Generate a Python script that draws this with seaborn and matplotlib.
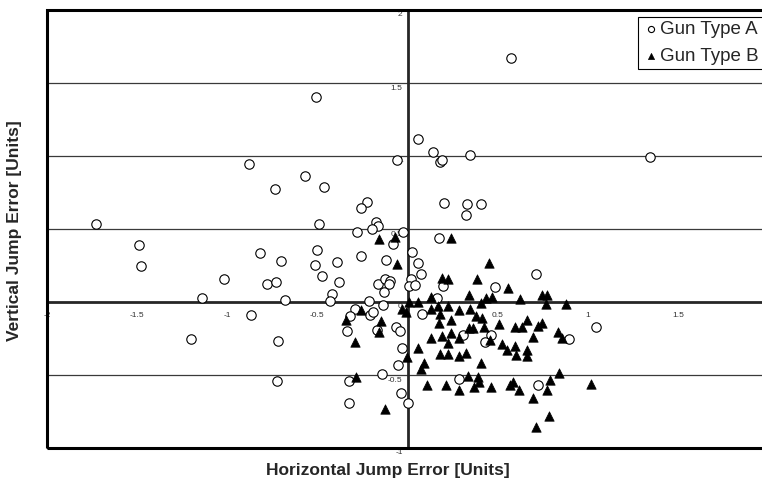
import numpy as np
import pandas as pd
import matplotlib
matplotlib.use("Agg")
import matplotlib.pyplot as plt
import matplotlib.transforms as mtransforms
from matplotlib.patches import Rectangle
import seaborn as sns

# ---- data ----
gun_a_x = [-0.507, -0.882, -0.059, -0.567, -0.737, -0.463, -0.222, -0.257, -1.730, -0.493,
           -0.174, -0.161, -0.198, -0.278, -0.026, -0.081, -1.489, 0.057, 0.576, 0.144,
           0.180, 0.190, 0.344, 1.348, 0.204, 0.331, 0.409, 0.324, 0.174, -1.480,
           -0.818, -0.704, -0.504, -0.515, -0.391, -0.257, -0.117, -1.020, -0.780, -0.731,
           -0.476, -0.380, -1.141, -0.680, -0.419, -0.428, -0.165, -0.124, -0.096, -0.104,
           -0.133, -0.211, -0.137, -0.869, -0.293, -0.317, -0.207, -0.193, -0.170, -0.337,
           -1.200, -0.717, -0.063, -0.041, -0.031, -0.050, -0.724, -0.326, -0.143, -0.037,
           -0.326, 0.004, 0.026, 0.057, 0.076, 0.020, 0.007, 0.039, 0.196, 0.715,
           0.487, 0.163, 0.081, 0.307, 0.465, 0.428, 0.896, 1.048, 0.283, 0.726]
gun_a_y = [1.405, 0.945, 0.970, 0.865, 0.774, 0.788, 0.687, 0.646, 0.536, 0.536,
           0.548, 0.523, 0.502, 0.479, 0.477, 0.395, 0.390, 1.114, 1.673, 1.027,
           0.960, 0.970, 1.007, 0.995, 0.676, 0.671, 0.669, 0.594, 0.436, 0.249,
           0.333, 0.281, 0.356, 0.253, 0.274, 0.317, 0.290, 0.158, 0.123, 0.137,
           0.178, 0.137, 0.030, 0.014, 0.053, 0.007, 0.121, 0.155, 0.142, 0.123,
           0.068, 0.007, -0.018, -0.091, -0.048, -0.094, -0.089, -0.071, -0.192, -0.201,
           -0.251, -0.269, -0.174, -0.196, -0.315, -0.432, -0.539, -0.539, -0.493, -0.621,
           -0.689, -0.689, 0.342, 0.265, 0.189, 0.155, 0.112, 0.116, 0.110, 0.189,
           0.105, 0.025, -0.082, -0.226, -0.226, -0.276, -0.251, -0.171, -0.527, -0.568]

gun_b_x = [-0.156, -0.067, 0.244, -0.057, -0.257, -0.341, -0.148, -0.159, -0.289, -0.004,
           0.057, -0.285, -0.126, 0.454, 0.193, 0.226, 0.383, 0.556, 0.746, 0.776,
           0.133, 0.343, 0.433, 0.469, 0.626, 0.011, 0.056, 0.169, 0.224, 0.409,
           0.767, 0.878, -0.033, -0.007, 0.131, 0.285, 0.344, 0.183, 0.381, 0.415,
           0.243, 0.174, 0.506, 0.424, 0.665, 0.746, 0.724, 0.594, 0.637, 0.341,
           0.363, 0.131, 0.193, 0.243, 0.285, 0.224, 0.456, 0.696, 0.835, 0.859,
           0.524, 0.594, 0.554, 0.665, 0.602, 0.665, 0.181, 0.226, 0.285, 0.326,
           0.094, 0.406, 0.076, 0.335, 0.391, 0.394, 0.367, 0.107, 0.215, 0.285,
           0.465, 0.567, 0.585, 0.619, 0.789, 0.839, 0.776, 0.694, 1.017, 0.785,
           0.715]
gun_b_y = [0.429, 0.447, 0.440, 0.258, -0.055, -0.123, -0.130, -0.203, -0.276, -0.379,
           -0.317, -0.511, -0.733, 0.267, 0.162, 0.158, 0.158, 0.096, 0.048, 0.048,
           0.037, 0.046, 0.030, 0.037, 0.018, -0.002, -0.002, -0.027, -0.027, -0.005,
           -0.014, -0.014, -0.046, -0.066, -0.046, -0.055, -0.046, -0.084, -0.096, -0.112,
           -0.123, -0.146, -0.153, -0.169, -0.123, -0.142, -0.162, -0.174, -0.174, -0.176,
           -0.180, -0.249, -0.233, -0.215, -0.249, -0.283, -0.260, -0.242, -0.203, -0.249,
           -0.290, -0.301, -0.329, -0.329, -0.363, -0.370, -0.358, -0.358, -0.368, -0.352,
           -0.420, -0.420, -0.461, -0.507, -0.511, -0.546, -0.580, -0.568, -0.568, -0.603,
           -0.580, -0.568, -0.546, -0.603, -0.534, -0.484, -0.603, -0.655, -0.562, -0.781,
           -0.854]

series_names = ["Gun Type A", "Gun Type B"]
x_ticks = [-2, -1.5, -1, -0.5, 0, 0.5, 1, 1.5]
x_tick_labels = ["-2", "-1.5", "-1", "-0.5", "0", "0.5", "1", "1.5"]
y_ticks = [-1, -0.5, 0, 0.5, 1, 1.5, 2]
y_tick_labels = ["-1", "-0.5", "0", "0.5", "1", "1.5", "2"]
x_label = "Horizontal Jump Error [Units]"
y_label = "Vertical Jump Error [Units]"

df_a = pd.DataFrame({"x": gun_a_x, "y": gun_a_y})
df_b = pd.DataFrame({"x": gun_b_x, "y": gun_b_y})

sns.set_style("white")
plt.rcParams["font.family"] = ["Liberation Sans", "DejaVu Sans"]

fig = plt.figure(figsize=(7.62, 4.87), dpi=100)
ax = fig.add_axes([47/762, 39/487, 721/762, 438/487])

# gridlines
for gy in [-0.5, 0.5, 1, 1.5]:
    ax.axhline(gy, color="#3a3a3a", lw=0.9, zorder=0)

sns.scatterplot(data=df_a, x="x", y="y", ax=ax, marker="o", s=46,
                color="white", edgecolor="black", linewidth=0.8,
                label=series_names[0], zorder=3)
sns.scatterplot(data=df_b, x="x", y="y", ax=ax, marker="^", s=46,
                color="black", edgecolor="black", linewidth=0.5,
                label=series_names[1], zorder=3)

ax.set_xlim(-2, 2)
ax.set_ylim(-1, 2)
ax.set_xlabel("")
ax.set_ylabel("")

# center axes
ax.spines["left"].set_position(("data", 0))
ax.spines["bottom"].set_position(("data", 0))
ax.spines["left"].set_linewidth(2)
ax.spines["bottom"].set_linewidth(2)
ax.spines["right"].set_visible(False)
ax.spines["top"].set_visible(False)
for sp in ["left", "bottom"]:
    ax.spines[sp].set_zorder(2)
ax.add_patch(Rectangle((0, 0), 1, 1, transform=ax.transAxes, fill=False,
                       lw=2.2, edgecolor="black", clip_on=False, zorder=5))

ax.set_xticks(x_ticks)
ax.set_xticklabels(x_tick_labels)
ax.set_yticks(y_ticks)
ax.set_yticklabels(y_tick_labels)
ax.tick_params(axis="both", which="both", direction="inout", length=3, width=1,
               labelsize=6, colors="black")
ax.tick_params(axis="x", pad=6)
ax.tick_params(axis="y", pad=2)
for lab in ax.get_xticklabels():
    lab.set_color("#333333")
for lab in ax.get_yticklabels():
    lab.set_color("#333333")
    lab.set_transform(lab.get_transform() +
                      mtransforms.ScaledTranslation(0, -4/100, fig.dpi_scale_trans))

fig.text(388/762, 1 - 471/487, x_label, ha="center", va="center",
         fontsize=12.5, fontweight="bold")
fig.text(15/762, 1 - 231/487, y_label, ha="center", va="center",
         rotation=90, fontsize=12.5, fontweight="bold")

leg = ax.legend(loc="upper left", bbox_to_anchor=(638/762, 1 - 17/487),
                bbox_transform=fig.transFigure, frameon=True, fancybox=False,
                framealpha=1, edgecolor="black", fontsize=13.5, markerscale=0.65,
                handletextpad=0.05, handlelength=0.9, borderpad=0.22,
                labelspacing=0.5, borderaxespad=0)
leg.get_frame().set_linewidth(0.8)
leg.set_zorder(10)

fig.savefig("out.png", dpi=100)
